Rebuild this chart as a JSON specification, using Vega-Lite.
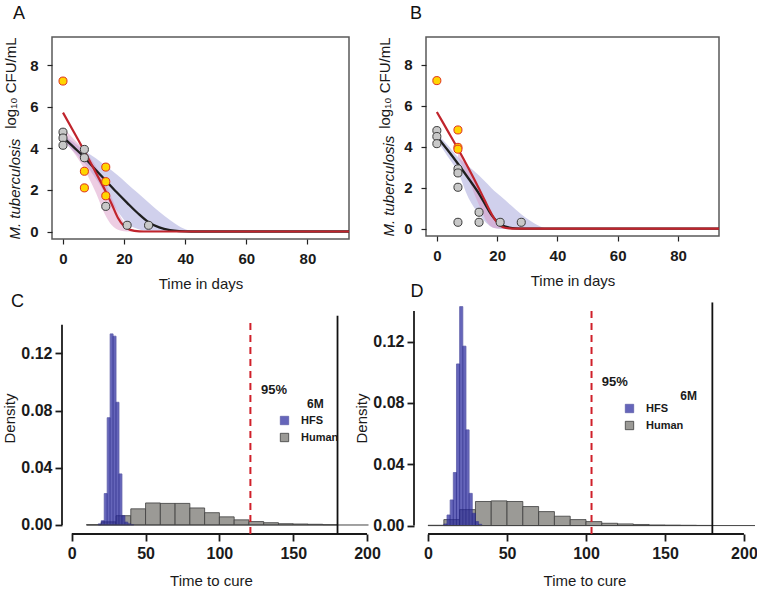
{
  "$schema": "https://vega.github.io/schema/vega-lite/v6.json",
  "background": "white",
  "padding": {"left": 2, "top": 4, "right": 0, "bottom": 0},
  "config": {
    "font": "Liberation Sans",
    "view": {"stroke": "#5a5a5a", "strokeWidth": 1.5},
    "axis": {"grid": false, "labelFont": "Liberation Sans", "titleFont": "Liberation Sans", "labelFontWeight": "bold", "titleFontWeight": "normal", "labelColor": "#1a1a1a", "titleColor": "#1a1a1a", "tickColor": "#222222", "labelFlush": false, "labelOverlap": false, "labelBound": false},
    "title": {"font": "Liberation Sans", "fontWeight": "normal", "color": "#111111"}
  },
  "datasets": {
    "A_band": [
      {"band": "HFS", "t": 0, "lo": 4.35, "hi": 4.65}, {"band": "HFS", "t": 3.5, "lo": 3.85, "hi": 4.3}, {"band": "HFS", "t": 7, "lo": 3.3, "hi": 3.9}, {"band": "HFS", "t": 10.5, "lo": 2.6, "hi": 3.55}, {"band": "HFS", "t": 14, "lo": 1.8, "hi": 3.15}, {"band": "HFS", "t": 17.5, "lo": 1.05, "hi": 2.75}, {"band": "HFS", "t": 21, "lo": 0.4, "hi": 2.3}, {"band": "HFS", "t": 24.5, "lo": 0.12, "hi": 1.85}, {"band": "HFS", "t": 28, "lo": 0.02, "hi": 1.4}, {"band": "HFS", "t": 31.5, "lo": 0, "hi": 0.95}, {"band": "HFS", "t": 35, "lo": 0, "hi": 0.55}, {"band": "HFS", "t": 38, "lo": 0, "hi": 0.25}, {"band": "HFS", "t": 41, "lo": 0, "hi": 0.06}, {"band": "HFS", "t": 44, "lo": 0, "hi": 0},
      {"band": "Human", "t": 0, "lo": 4.4, "hi": 5.0}, {"band": "Human", "t": 3.5, "lo": 3.8, "hi": 4.45}, {"band": "Human", "t": 7, "lo": 3.0, "hi": 3.9}, {"band": "Human", "t": 10.5, "lo": 1.95, "hi": 3.2}, {"band": "Human", "t": 14, "lo": 0.75, "hi": 2.3}, {"band": "Human", "t": 16, "lo": 0.3, "hi": 1.6}, {"band": "Human", "t": 18, "lo": 0.08, "hi": 0.95}, {"band": "Human", "t": 20, "lo": 0.01, "hi": 0.45}, {"band": "Human", "t": 22, "lo": 0, "hi": 0.15}, {"band": "Human", "t": 25, "lo": 0, "hi": 0.02}, {"band": "Human", "t": 27, "lo": 0, "hi": 0}
    ],
    "A_line": [
      {"series": "HFS", "t": 0, "v": 4.54}, {"series": "HFS", "t": 3.5, "v": 4.06}, {"series": "HFS", "t": 7, "v": 3.57}, {"series": "HFS", "t": 10.5, "v": 3.0}, {"series": "HFS", "t": 14, "v": 2.45}, {"series": "HFS", "t": 17.5, "v": 1.9}, {"series": "HFS", "t": 21, "v": 1.38}, {"series": "HFS", "t": 24.5, "v": 0.88}, {"series": "HFS", "t": 28, "v": 0.45}, {"series": "HFS", "t": 31.5, "v": 0.2}, {"series": "HFS", "t": 35, "v": 0.07}, {"series": "HFS", "t": 38, "v": 0.02}, {"series": "HFS", "t": 42, "v": 0}, {"series": "HFS", "t": 93.6, "v": 0},
      {"series": "Human", "t": 0, "v": 5.72}, {"series": "Human", "t": 3.5, "v": 4.8}, {"series": "Human", "t": 7, "v": 3.87}, {"series": "Human", "t": 10.5, "v": 2.9}, {"series": "Human", "t": 14, "v": 1.92}, {"series": "Human", "t": 16, "v": 1.3}, {"series": "Human", "t": 18, "v": 0.65}, {"series": "Human", "t": 20, "v": 0.25}, {"series": "Human", "t": 22, "v": 0.08}, {"series": "Human", "t": 25, "v": 0.01}, {"series": "Human", "t": 28, "v": 0}, {"series": "Human", "t": 93.6, "v": 0}
    ],
    "A_pts": [
      {"series": "HFS", "t": 0, "v": 4.78}, {"series": "HFS", "t": 0, "v": 4.5}, {"series": "HFS", "t": 0, "v": 4.15}, {"series": "HFS", "t": 7, "v": 3.95}, {"series": "HFS", "t": 7, "v": 3.55}, {"series": "HFS", "t": 14, "v": 1.21}, {"series": "HFS", "t": 21, "v": 0.3}, {"series": "HFS", "t": 28, "v": 0.3},
      {"series": "Human", "t": 0, "v": 7.24}, {"series": "Human", "t": 7, "v": 2.9}, {"series": "Human", "t": 7, "v": 2.1}, {"series": "Human", "t": 14, "v": 3.1}, {"series": "Human", "t": 14, "v": 2.4}, {"series": "Human", "t": 14, "v": 1.72}
    ],
    "B_band": [
      {"band": "HFS", "t": 0, "lo": 4.3, "hi": 4.65}, {"band": "HFS", "t": 3.5, "lo": 3.55, "hi": 4.1}, {"band": "HFS", "t": 7, "lo": 2.75, "hi": 3.5}, {"band": "HFS", "t": 10.5, "lo": 1.5, "hi": 3.05}, {"band": "HFS", "t": 14, "lo": 0.7, "hi": 2.6}, {"band": "HFS", "t": 17, "lo": 0.2, "hi": 2.15}, {"band": "HFS", "t": 19, "lo": 0.03, "hi": 1.85}, {"band": "HFS", "t": 21, "lo": 0, "hi": 1.6}, {"band": "HFS", "t": 24.5, "lo": 0, "hi": 1.15}, {"band": "HFS", "t": 28, "lo": 0, "hi": 0.7}, {"band": "HFS", "t": 31, "lo": 0, "hi": 0.38}, {"band": "HFS", "t": 33, "lo": 0, "hi": 0.2}, {"band": "HFS", "t": 35, "lo": 0, "hi": 0.06}, {"band": "HFS", "t": 37, "lo": 0, "hi": 0},
      {"band": "Human", "t": 7, "lo": 3.5, "hi": 3.95}, {"band": "Human", "t": 10.5, "lo": 2.4, "hi": 2.95}, {"band": "Human", "t": 14, "lo": 1.15, "hi": 2.0}, {"band": "Human", "t": 17, "lo": 0.25, "hi": 1.05}, {"band": "Human", "t": 19, "lo": 0.03, "hi": 0.5}, {"band": "Human", "t": 21, "lo": 0, "hi": 0.18}, {"band": "Human", "t": 23, "lo": 0, "hi": 0.03}, {"band": "Human", "t": 25, "lo": 0, "hi": 0}
    ],
    "B_line": [
      {"series": "HFS", "t": 0, "v": 4.5}, {"series": "HFS", "t": 3.5, "v": 3.85}, {"series": "HFS", "t": 7, "v": 3.17}, {"series": "HFS", "t": 10.5, "v": 2.45}, {"series": "HFS", "t": 14, "v": 1.7}, {"series": "HFS", "t": 16, "v": 1.2}, {"series": "HFS", "t": 18, "v": 0.7}, {"series": "HFS", "t": 20, "v": 0.35}, {"series": "HFS", "t": 22, "v": 0.14}, {"series": "HFS", "t": 24, "v": 0.05}, {"series": "HFS", "t": 26, "v": 0.01}, {"series": "HFS", "t": 29, "v": 0}, {"series": "HFS", "t": 93.6, "v": 0},
      {"series": "Human", "t": 0, "v": 5.7}, {"series": "Human", "t": 3.5, "v": 4.8}, {"series": "Human", "t": 7, "v": 3.9}, {"series": "Human", "t": 10.5, "v": 2.95}, {"series": "Human", "t": 14, "v": 1.95}, {"series": "Human", "t": 16, "v": 1.35}, {"series": "Human", "t": 17.5, "v": 0.9}, {"series": "Human", "t": 19, "v": 0.5}, {"series": "Human", "t": 20.5, "v": 0.22}, {"series": "Human", "t": 22, "v": 0.07}, {"series": "Human", "t": 24, "v": 0.01}, {"series": "Human", "t": 26, "v": 0}, {"series": "Human", "t": 93.6, "v": 0}
    ],
    "B_pts": [
      {"series": "HFS", "t": 0, "v": 4.79}, {"series": "HFS", "t": 0, "v": 4.5}, {"series": "HFS", "t": 0, "v": 4.15}, {"series": "HFS", "t": 7, "v": 2.92}, {"series": "HFS", "t": 7, "v": 2.72}, {"series": "HFS", "t": 7, "v": 2.02}, {"series": "HFS", "t": 7, "v": 0.31}, {"series": "HFS", "t": 14, "v": 0.8}, {"series": "HFS", "t": 14, "v": 0.31}, {"series": "HFS", "t": 21, "v": 0.31}, {"series": "HFS", "t": 28, "v": 0.31},
      {"series": "Human", "t": 0, "v": 7.23}, {"series": "Human", "t": 7, "v": 4.82}, {"series": "Human", "t": 7, "v": 3.97}, {"series": "Human", "t": 7, "v": 3.88}
    ],
    "C_hist": [
      {"group": "Human", "bin_start": 10, "bin_end": 20, "density": 0.0002}, {"group": "Human", "bin_start": 20, "bin_end": 30, "density": 0.0022}, {"group": "Human", "bin_start": 30, "bin_end": 40, "density": 0.0065}, {"group": "Human", "bin_start": 40, "bin_end": 50, "density": 0.0113}, {"group": "Human", "bin_start": 50, "bin_end": 60, "density": 0.0154}, {"group": "Human", "bin_start": 60, "bin_end": 70, "density": 0.0151}, {"group": "Human", "bin_start": 70, "bin_end": 80, "density": 0.0151}, {"group": "Human", "bin_start": 80, "bin_end": 90, "density": 0.0119}, {"group": "Human", "bin_start": 90, "bin_end": 100, "density": 0.0086}, {"group": "Human", "bin_start": 100, "bin_end": 110, "density": 0.0057}, {"group": "Human", "bin_start": 110, "bin_end": 120, "density": 0.0036}, {"group": "Human", "bin_start": 120, "bin_end": 130, "density": 0.0024}, {"group": "Human", "bin_start": 130, "bin_end": 140, "density": 0.0016}, {"group": "Human", "bin_start": 140, "bin_end": 150, "density": 0.0009}, {"group": "Human", "bin_start": 150, "bin_end": 160, "density": 0.0007}, {"group": "Human", "bin_start": 160, "bin_end": 170, "density": 0.0005}, {"group": "Human", "bin_start": 170, "bin_end": 180, "density": 0.0002},
      {"group": "HFS", "bin_start": 18, "bin_end": 20, "density": 0.0008}, {"group": "HFS", "bin_start": 20, "bin_end": 22, "density": 0.003}, {"group": "HFS", "bin_start": 22, "bin_end": 24, "density": 0.022}, {"group": "HFS", "bin_start": 24, "bin_end": 26, "density": 0.075}, {"group": "HFS", "bin_start": 26, "bin_end": 28, "density": 0.1336}, {"group": "HFS", "bin_start": 28, "bin_end": 30, "density": 0.132}, {"group": "HFS", "bin_start": 30, "bin_end": 32, "density": 0.0858}, {"group": "HFS", "bin_start": 32, "bin_end": 34, "density": 0.0357}, {"group": "HFS", "bin_start": 34, "bin_end": 36, "density": 0.0065}, {"group": "HFS", "bin_start": 36, "bin_end": 38, "density": 0.002}, {"group": "HFS", "bin_start": 38, "bin_end": 40, "density": 0.0008}, {"group": "HFS", "bin_start": 40, "bin_end": 42, "density": 0.0003}
    ],
    "D_hist": [
      {"group": "Human", "bin_start": 0, "bin_end": 10, "density": 0.0002}, {"group": "Human", "bin_start": 10, "bin_end": 20, "density": 0.0039}, {"group": "Human", "bin_start": 20, "bin_end": 30, "density": 0.0104}, {"group": "Human", "bin_start": 30, "bin_end": 40, "density": 0.0157}, {"group": "Human", "bin_start": 40, "bin_end": 50, "density": 0.0161}, {"group": "Human", "bin_start": 50, "bin_end": 60, "density": 0.0157}, {"group": "Human", "bin_start": 60, "bin_end": 70, "density": 0.0124}, {"group": "Human", "bin_start": 70, "bin_end": 80, "density": 0.0091}, {"group": "Human", "bin_start": 80, "bin_end": 90, "density": 0.0061}, {"group": "Human", "bin_start": 90, "bin_end": 100, "density": 0.0039}, {"group": "Human", "bin_start": 100, "bin_end": 110, "density": 0.0026}, {"group": "Human", "bin_start": 110, "bin_end": 120, "density": 0.0015}, {"group": "Human", "bin_start": 120, "bin_end": 130, "density": 0.0011}, {"group": "Human", "bin_start": 130, "bin_end": 140, "density": 0.0007}, {"group": "Human", "bin_start": 140, "bin_end": 150, "density": 0.0004}, {"group": "Human", "bin_start": 150, "bin_end": 160, "density": 0.0003}, {"group": "Human", "bin_start": 160, "bin_end": 170, "density": 0.0002}, {"group": "Human", "bin_start": 170, "bin_end": 180, "density": 0.0001},
      {"group": "HFS", "bin_start": 10, "bin_end": 12, "density": 0.001}, {"group": "HFS", "bin_start": 12, "bin_end": 14, "density": 0.0069}, {"group": "HFS", "bin_start": 14, "bin_end": 16, "density": 0.0167}, {"group": "HFS", "bin_start": 16, "bin_end": 18, "density": 0.0346}, {"group": "HFS", "bin_start": 18, "bin_end": 20, "density": 0.1054}, {"group": "HFS", "bin_start": 20, "bin_end": 22, "density": 0.1428}, {"group": "HFS", "bin_start": 22, "bin_end": 24, "density": 0.117}, {"group": "HFS", "bin_start": 24, "bin_end": 26, "density": 0.0624}, {"group": "HFS", "bin_start": 26, "bin_end": 28, "density": 0.021}, {"group": "HFS", "bin_start": 28, "bin_end": 30, "density": 0.008}, {"group": "HFS", "bin_start": 30, "bin_end": 32, "density": 0.0026}, {"group": "HFS", "bin_start": 32, "bin_end": 34, "density": 0.0008}
    ]
  },
  "resolve": {"scale": {"fill": "independent", "stroke": "independent", "opacity": "independent"}, "legend": {"fill": "independent"}},
  "spacing": -10,
  "vconcat": [
    {
      "bounds": "flush",
      "spacing": 77,
      "hconcat": [
        {
          "width": 297, "height": 202,
          "title": {"text": "A", "anchor": "start", "frame": "group", "dx": -39, "offset": 0, "fontSize": 18, "baseline": "alphabetic"},
          "resolve": {"axis": {"y": "independent"}},
          "layer": [
            {"data": {"name": "A_band"}, "transform": [{"filter": "datum.band === 'HFS'"}],
             "mark": {"type": "area", "color": "#8a8ad0", "opacity": 0.4, "interpolate": "monotone", "clip": true},
             "encoding": {
               "x": {"field": "t", "type": "quantitative", "scale": {"domain": [-3.6, 93.6], "nice": false, "zero": false}, "axis": {"values": [0, 20, 40, 60, 80], "domain": false, "tickSize": 5, "tickWidth": 1.2, "labelPadding": 7, "labelFontSize": 15, "title": "Time in days", "titleFontSize": 15, "titlePadding": 10}},
               "y": {"field": "lo", "type": "quantitative", "scale": {"domain": [-0.36, 9.36], "nice": false, "zero": false}, "axis": {"orient": "left", "values": [0, 2, 4, 6, 8], "domain": false, "tickSize": 5, "tickWidth": 1.2, "labelPadding": 9, "labelFontSize": 15, "title": "M. tuberculosis", "titleFontStyle": "italic", "titleAnchor": "start", "titleFontSize": 15, "titlePadding": 7}},
               "y2": {"field": "hi"}}},
            {"data": {"name": "A_band"}, "transform": [{"filter": "datum.band === 'Human'"}],
             "mark": {"type": "area", "color": "#d890c0", "opacity": 0.45, "interpolate": "monotone", "clip": true},
             "encoding": {
               "x": {"field": "t", "type": "quantitative", "scale": {"domain": [-3.6, 93.6], "nice": false, "zero": false}},
               "y": {"field": "lo", "type": "quantitative", "scale": {"domain": [-0.36, 9.36], "nice": false, "zero": false}, "axis": null},
               "y2": {"field": "hi"}}},
            {"data": {"name": "A_line"}, "transform": [{"filter": "datum.series === 'HFS'"}],
             "mark": {"type": "line", "color": "#1f1f1f", "strokeWidth": 2.3, "interpolate": "monotone", "clip": true},
             "encoding": {
               "x": {"field": "t", "type": "quantitative", "scale": {"domain": [-3.6, 93.6], "nice": false, "zero": false}},
               "y": {"field": "v", "type": "quantitative", "scale": {"domain": [-0.36, 9.36], "nice": false, "zero": false}, "axis": {"orient": "left", "labels": false, "ticks": false, "domain": false, "title": "log\u2081\u2080 CFU/mL", "titleAnchor": "end", "titleFontSize": 15, "titlePadding": 34}}}},
            {"data": {"name": "A_line"}, "transform": [{"filter": "datum.series === 'Human'"}],
             "mark": {"type": "line", "color": "#c0242c", "strokeWidth": 2.2, "interpolate": "monotone", "clip": true},
             "encoding": {
               "x": {"field": "t", "type": "quantitative", "scale": {"domain": [-3.6, 93.6], "nice": false, "zero": false}},
               "y": {"field": "v", "type": "quantitative", "scale": {"domain": [-0.36, 9.36], "nice": false, "zero": false}, "axis": null}}},
            {"data": {"name": "A_pts"}, "transform": [{"filter": "datum.series === 'HFS'"}],
             "mark": {"type": "circle", "fill": "#c8c8c8", "stroke": "#3a3a3a", "strokeWidth": 1, "size": 65, "opacity": 1},
             "encoding": {
               "x": {"field": "t", "type": "quantitative", "scale": {"domain": [-3.6, 93.6], "nice": false, "zero": false}},
               "y": {"field": "v", "type": "quantitative", "scale": {"domain": [-0.36, 9.36], "nice": false, "zero": false}, "axis": null}}},
            {"data": {"name": "A_pts"}, "transform": [{"filter": "datum.series === 'Human'"}],
             "mark": {"type": "circle", "fill": "#ffd500", "stroke": "#e0301e", "strokeWidth": 1, "size": 65, "opacity": 1},
             "encoding": {
               "x": {"field": "t", "type": "quantitative", "scale": {"domain": [-3.6, 93.6], "nice": false, "zero": false}},
               "y": {"field": "v", "type": "quantitative", "scale": {"domain": [-0.36, 9.36], "nice": false, "zero": false}, "axis": null}}}
          ]
        },
        {
          "width": 293, "height": 199,
          "title": {"text": "B", "anchor": "start", "frame": "group", "dx": -16, "offset": 0, "fontSize": 18, "baseline": "alphabetic"},
          "resolve": {"axis": {"y": "independent"}},
          "layer": [
            {"data": {"name": "B_band"}, "transform": [{"filter": "datum.band === 'HFS'"}],
             "mark": {"type": "area", "color": "#8a8ad0", "opacity": 0.4, "interpolate": "monotone", "clip": true},
             "encoding": {
               "x": {"field": "t", "type": "quantitative", "scale": {"domain": [-3.6, 93.6], "nice": false, "zero": false}, "axis": {"values": [0, 20, 40, 60, 80], "domain": false, "tickSize": 5, "tickWidth": 1.2, "labelPadding": 7, "labelFontSize": 15, "title": "Time in days", "titleFontSize": 15, "titlePadding": 10}},
               "y": {"field": "lo", "type": "quantitative", "scale": {"domain": [-0.36, 9.36], "nice": false, "zero": false}, "axis": {"orient": "left", "values": [0, 2, 4, 6, 8], "domain": false, "tickSize": 5, "tickWidth": 1.2, "labelPadding": 9, "labelFontSize": 15, "title": "M. tuberculosis", "titleFontStyle": "italic", "titleAnchor": "start", "titleFontSize": 15, "titlePadding": 7}},
               "y2": {"field": "hi"}}},
            {"data": {"name": "B_band"}, "transform": [{"filter": "datum.band === 'Human'"}],
             "mark": {"type": "area", "color": "#d890c0", "opacity": 0.45, "interpolate": "monotone", "clip": true},
             "encoding": {
               "x": {"field": "t", "type": "quantitative", "scale": {"domain": [-3.6, 93.6], "nice": false, "zero": false}},
               "y": {"field": "lo", "type": "quantitative", "scale": {"domain": [-0.36, 9.36], "nice": false, "zero": false}, "axis": null},
               "y2": {"field": "hi"}}},
            {"data": {"name": "B_line"}, "transform": [{"filter": "datum.series === 'HFS'"}],
             "mark": {"type": "line", "color": "#1f1f1f", "strokeWidth": 2.3, "interpolate": "monotone", "clip": true},
             "encoding": {
               "x": {"field": "t", "type": "quantitative", "scale": {"domain": [-3.6, 93.6], "nice": false, "zero": false}},
               "y": {"field": "v", "type": "quantitative", "scale": {"domain": [-0.36, 9.36], "nice": false, "zero": false}, "axis": {"orient": "left", "labels": false, "ticks": false, "domain": false, "title": "log\u2081\u2080 CFU/mL", "titleAnchor": "end", "titleFontSize": 15, "titlePadding": 34}}}},
            {"data": {"name": "B_line"}, "transform": [{"filter": "datum.series === 'Human'"}],
             "mark": {"type": "line", "color": "#c0242c", "strokeWidth": 2.2, "interpolate": "monotone", "clip": true},
             "encoding": {
               "x": {"field": "t", "type": "quantitative", "scale": {"domain": [-3.6, 93.6], "nice": false, "zero": false}},
               "y": {"field": "v", "type": "quantitative", "scale": {"domain": [-0.36, 9.36], "nice": false, "zero": false}, "axis": null}}},
            {"data": {"name": "B_pts"}, "transform": [{"filter": "datum.series === 'HFS'"}],
             "mark": {"type": "circle", "fill": "#c8c8c8", "stroke": "#3a3a3a", "strokeWidth": 1, "size": 65, "opacity": 1},
             "encoding": {
               "x": {"field": "t", "type": "quantitative", "scale": {"domain": [-3.6, 93.6], "nice": false, "zero": false}},
               "y": {"field": "v", "type": "quantitative", "scale": {"domain": [-0.36, 9.36], "nice": false, "zero": false}, "axis": null}}},
            {"data": {"name": "B_pts"}, "transform": [{"filter": "datum.series === 'Human'"}],
             "mark": {"type": "circle", "fill": "#ffd500", "stroke": "#e0301e", "strokeWidth": 1, "size": 65, "opacity": 1},
             "encoding": {
               "x": {"field": "t", "type": "quantitative", "scale": {"domain": [-3.6, 93.6], "nice": false, "zero": false}},
               "y": {"field": "v", "type": "quantitative", "scale": {"domain": [-0.36, 9.36], "nice": false, "zero": false}, "axis": null}}}
          ]
        }
      ]
    },
    {
      "bounds": "flush",
      "spacing": 44,
      "resolve": {"scale": {"fill": "independent", "stroke": "independent", "opacity": "independent"}, "legend": {"fill": "independent"}},
      "hconcat": [
        {
          "width": 318, "height": 232,
          "view": {"stroke": null},
          "title": {"text": "C", "anchor": "start", "frame": "group", "dx": -41, "offset": -23, "fontSize": 18, "baseline": "alphabetic"},
          "layer": [
            {"data": {"name": "C_hist"},
             "mark": {"type": "rect", "strokeWidth": 0.8},
             "encoding": {
               "x": {"field": "bin_start", "type": "quantitative", "scale": {"domain": [-13.37, 202], "nice": false, "zero": false}, "axis": {"values": [0, 50, 100, 150, 200], "domain": false, "tickSize": 7, "tickWidth": 1.8, "tickColor": "#1a1a1a", "labelPadding": 4, "labelFontSize": 16, "title": "Time to cure", "titleFontSize": 15, "titlePadding": 12}},
               "x2": {"field": "bin_end"},
               "y": {"field": "density", "type": "quantitative", "scale": {"domain": [-0.0063, 0.1559], "nice": false, "zero": false}, "axis": {"offset": -10, "values": [0, 0.02, 0.04, 0.06, 0.08, 0.1, 0.12, 0.14], "labelExpr": "round(datum.value*100) % 4 === 0 ? format(datum.value, '.2f') : ''", "domain": false, "tickSize": 7, "tickWidth": 1.8, "tickColor": "#1a1a1a", "labelPadding": 3, "labelFontSize": 16, "title": "Density", "titleFontSize": 15, "titlePadding": 3}},
               "y2": {"datum": 0},
               "fill": {"field": "group", "type": "nominal", "scale": {"domain": ["HFS", "Human"], "range": ["#2a2aa0", "#9b9a96"]}, "legend": {"orient": "none", "legendX": 227, "legendY": 113, "title": null, "symbolType": "square", "symbolSize": 70, "labelFontSize": 11, "labelFontWeight": "bold", "labelFont": "Liberation Sans", "labelColor": "#1a1a1a", "rowPadding": 4, "labelOffset": 11, "symbolStrokeColor": "#333333", "symbolStrokeWidth": 0.8, "symbolOpacity": 1, "padding": 0}},
               "stroke": {"field": "group", "type": "nominal", "scale": {"domain": ["HFS", "Human"], "range": ["#24248a", "#3c3c3c"]}, "legend": null},
               "opacity": {"field": "group", "type": "nominal", "scale": {"domain": ["HFS", "Human"], "range": [0.72, 1]}, "legend": null}}},
            {"data": {"values": [{}]}, "mark": {"type": "rule", "color": "#444444", "strokeWidth": 1},
             "encoding": {"x": {"datum": 10, "type": "quantitative"}, "x2": {"datum": 201}, "y": {"datum": 0, "type": "quantitative"}}},
            {"data": {"values": [{}]}, "mark": {"type": "rule", "color": "#1a1a1a", "strokeWidth": 1.8},
             "encoding": {"x": {"datum": 0, "type": "quantitative"}, "x2": {"datum": 200}, "y": {"datum": -0.0063, "type": "quantitative"}}},
            {"data": {"values": [{}]}, "mark": {"type": "rule", "color": "#1a1a1a", "strokeWidth": 1.8},
             "encoding": {"x": {"datum": -6.6, "type": "quantitative"}, "y": {"datum": 0, "type": "quantitative"}, "y2": {"datum": 0.14}}},
            {"data": {"values": [{}]}, "mark": {"type": "rule", "color": "#d0202a", "strokeWidth": 2, "strokeDash": [7, 5]},
             "encoding": {"x": {"datum": 121, "type": "quantitative"}, "y": {"datum": -0.0063, "type": "quantitative"}, "y2": {"datum": 0.1416}}},
            {"data": {"values": [{}]}, "mark": {"type": "rule", "color": "#111111", "strokeWidth": 1.8},
             "encoding": {"x": {"datum": 180, "type": "quantitative"}, "y": {"datum": -0.0063, "type": "quantitative"}, "y2": {"datum": 0.1463}}},
            {"data": {"values": [{}]}, "mark": {"type": "text", "text": "95%", "align": "left", "baseline": "middle", "fontSize": 13, "fontWeight": "bold", "color": "#1a1a1a"},
             "encoding": {"x": {"datum": 128.2, "type": "quantitative"}, "y": {"datum": 0.0944, "type": "quantitative"}}},
            {"data": {"values": [{}]}, "mark": {"type": "text", "text": "6M", "align": "center", "baseline": "middle", "fontSize": 12, "fontWeight": "bold", "color": "#1a1a1a"},
             "encoding": {"x": {"datum": 165, "type": "quantitative"}, "y": {"datum": 0.0846, "type": "quantitative"}}}
          ]
        },
        {
          "width": 341, "height": 232,
          "view": {"stroke": null},
          "title": {"text": "D", "anchor": "start", "frame": "group", "dx": -3.5, "offset": -13, "fontSize": 18, "baseline": "alphabetic"},
          "layer": [
            {"data": {"name": "D_hist"},
             "mark": {"type": "rect", "strokeWidth": 0.8},
             "encoding": {
               "x": {"field": "bin_start", "type": "quantitative", "scale": {"domain": [-8.9, 207], "nice": false, "zero": false}, "axis": {"values": [0, 50, 100, 150, 200], "domain": false, "tickSize": 7, "tickWidth": 1.8, "tickColor": "#1a1a1a", "labelPadding": 4, "labelFontSize": 16, "title": "Time to cure", "titleFontSize": 15, "titlePadding": 12}},
               "x2": {"field": "bin_end"},
               "y": {"field": "density", "type": "quantitative", "scale": {"domain": [-0.0055, 0.1458], "nice": false, "zero": false}, "axis": {"values": [0, 0.02, 0.04, 0.06, 0.08, 0.1, 0.12, 0.14], "labelExpr": "round(datum.value*100) % 4 === 0 ? format(datum.value, '.2f') : ''", "domain": false, "tickSize": 7, "tickWidth": 1.8, "tickColor": "#1a1a1a", "labelPadding": 3, "labelFontSize": 16, "title": "Density", "titleFontSize": 15, "titlePadding": 3}},
               "y2": {"datum": 0},
               "fill": {"field": "group", "type": "nominal", "scale": {"domain": ["HFS", "Human"], "range": ["#2a2aa0", "#9b9a96"]}, "legend": {"orient": "none", "legendX": 210, "legendY": 101, "title": null, "symbolType": "square", "symbolSize": 70, "labelFontSize": 11, "labelFontWeight": "bold", "labelFont": "Liberation Sans", "labelColor": "#1a1a1a", "rowPadding": 4, "labelOffset": 11, "symbolStrokeColor": "#333333", "symbolStrokeWidth": 0.8, "symbolOpacity": 1, "padding": 0}},
               "stroke": {"field": "group", "type": "nominal", "scale": {"domain": ["HFS", "Human"], "range": ["#24248a", "#3c3c3c"]}, "legend": null},
               "opacity": {"field": "group", "type": "nominal", "scale": {"domain": ["HFS", "Human"], "range": [0.72, 1]}, "legend": null}}},
            {"data": {"values": [{}]}, "mark": {"type": "rule", "color": "#444444", "strokeWidth": 1},
             "encoding": {"x": {"datum": 0, "type": "quantitative"}, "x2": {"datum": 207}, "y": {"datum": 0, "type": "quantitative"}}},
            {"data": {"values": [{}]}, "mark": {"type": "rule", "color": "#1a1a1a", "strokeWidth": 1.8},
             "encoding": {"x": {"datum": 0, "type": "quantitative"}, "x2": {"datum": 200}, "y": {"datum": -0.0055, "type": "quantitative"}}},
            {"data": {"values": [{}]}, "mark": {"type": "rule", "color": "#1a1a1a", "strokeWidth": 1.8},
             "encoding": {"x": {"datum": -8.9, "type": "quantitative"}, "y": {"datum": 0, "type": "quantitative"}, "y2": {"datum": 0.14}}},
            {"data": {"values": [{}]}, "mark": {"type": "rule", "color": "#d0202a", "strokeWidth": 2, "strokeDash": [7, 5]},
             "encoding": {"x": {"datum": 103.5, "type": "quantitative"}, "y": {"datum": -0.0055, "type": "quantitative"}, "y2": {"datum": 0.1417}}},
            {"data": {"values": [{}]}, "mark": {"type": "rule", "color": "#111111", "strokeWidth": 1.8},
             "encoding": {"x": {"datum": 180, "type": "quantitative"}, "y": {"datum": -0.0055, "type": "quantitative"}, "y2": {"datum": 0.1455}}},
            {"data": {"values": [{}]}, "mark": {"type": "text", "text": "95%", "align": "left", "baseline": "middle", "fontSize": 13, "fontWeight": "bold", "color": "#1a1a1a"},
             "encoding": {"x": {"datum": 110, "type": "quantitative"}, "y": {"datum": 0.0939, "type": "quantitative"}}},
            {"data": {"values": [{}]}, "mark": {"type": "text", "text": "6M", "align": "center", "baseline": "middle", "fontSize": 12, "fontWeight": "bold", "color": "#1a1a1a"},
             "encoding": {"x": {"datum": 165, "type": "quantitative"}, "y": {"datum": 0.0843, "type": "quantitative"}}}
          ]
        }
      ]
    }
  ]
}
